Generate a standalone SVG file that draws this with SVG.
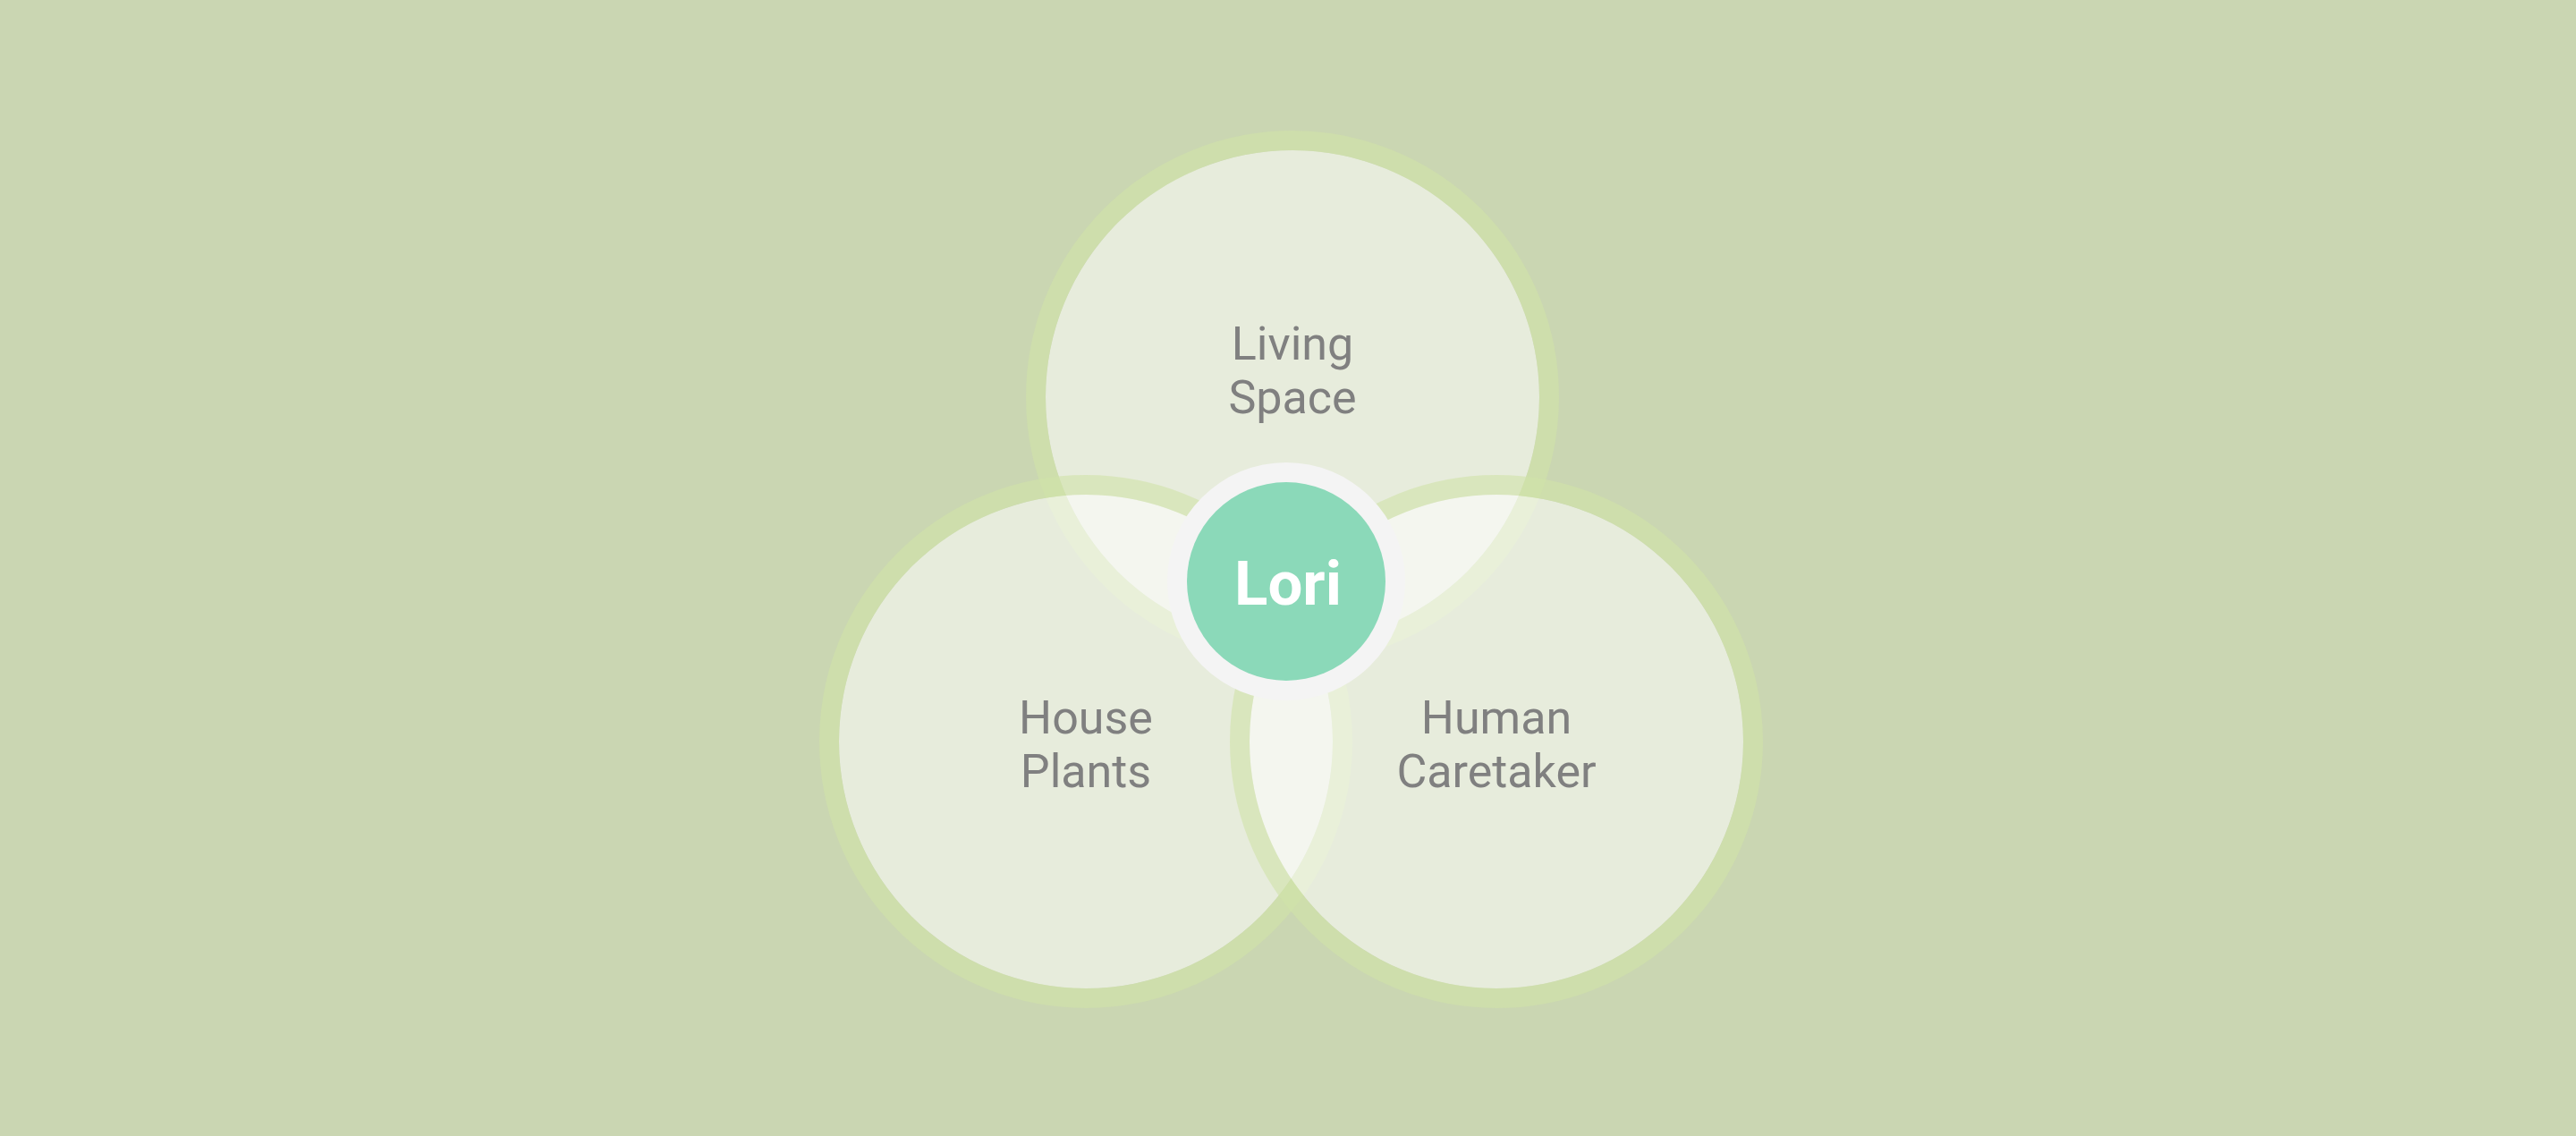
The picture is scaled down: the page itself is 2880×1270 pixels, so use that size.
<svg xmlns="http://www.w3.org/2000/svg" width="2880" height="1270" viewBox="0 0 2880 1270">
  <style>
    .fill { fill: #ffffff; fill-opacity: 0.55; }
    .ring { fill: none; stroke: #d0e2a8; stroke-opacity: 0.6; stroke-width: 22; }
    .label { font-family: Roboto, "Liberation Sans", sans-serif; font-size: 52px; fill: #808080; text-anchor: middle; }
    .center-label { font-family: Roboto, "Liberation Sans", sans-serif; font-size: 69px; font-weight: 700; fill: #ffffff; text-anchor: middle; }
  </style>
  <rect x="0" y="0" width="2880" height="1270" fill="#cad6b2"/>
  <g id="connectors"></g>
  <g id="living-space">
    <circle class="fill" cx="1445" cy="444" r="276"/>
    <circle class="ring" cx="1445" cy="444" r="287"/>
    <text class="label" x="1445" y="402">Living</text>
    <text class="label" x="1445" y="462">Space</text>
  </g>
  <g id="house-plants">
    <circle class="fill" cx="1214" cy="829" r="276"/>
    <circle class="ring" cx="1214" cy="829" r="287"/>
    <text class="label" x="1214" y="820">House</text>
    <text class="label" x="1214" y="880">Plants</text>
  </g>
  <g id="human-caretaker">
    <circle class="fill" cx="1673" cy="829" r="276"/>
    <circle class="ring" cx="1673" cy="829" r="287"/>
    <text class="label" x="1673" y="820">Human</text>
    <text class="label" x="1673" y="880">Caretaker</text>
  </g>
  <g id="lori">
    <circle cx="1438" cy="650" r="133" fill="#f4f4f4"/>
    <circle cx="1438" cy="650" r="111" fill="#8bd9b9"/>
    <text class="center-label" x="1440" y="676">Lori</text>
  </g>
</svg>
